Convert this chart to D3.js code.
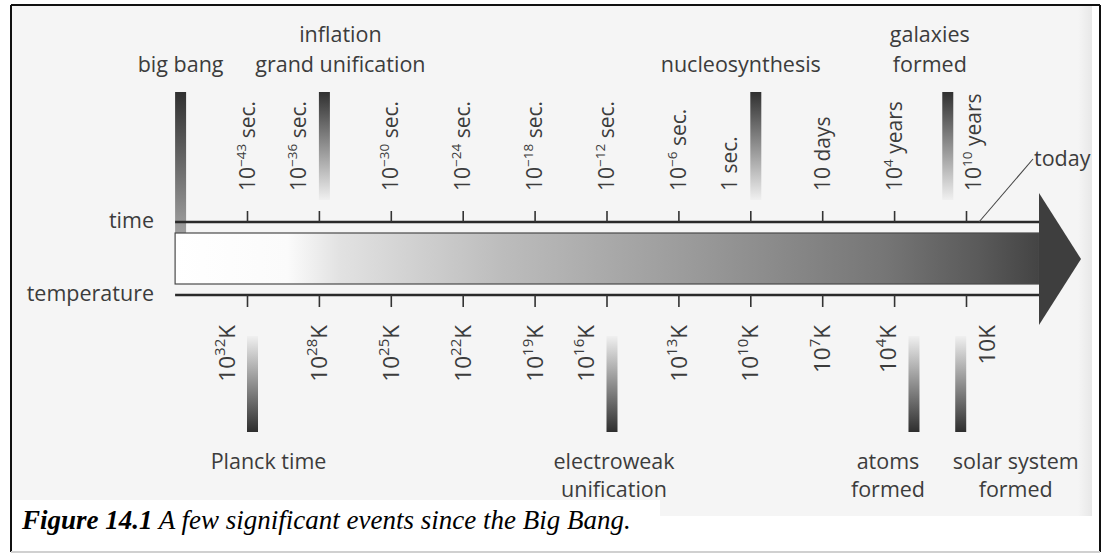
<!DOCTYPE html>
<html>
<head>
<meta charset="utf-8">
<script src="https://cdnjs.cloudflare.com/ajax/libs/d3/7.8.5/d3.min.js"></script>
<style>
  body { margin: 0; background: #fff; }
  svg text { font-family: "Open Sans", "Noto Sans", sans-serif; fill: #3c3c3c; }
  svg text.caption { font-family: "Liberation Serif", "Times New Roman", serif; fill: #000; }
</style>
</head>
<body>
<div id="chart"></div>
<script>
"use strict";

// time axis, one entry per tick: base, exponent, unit
var timeBase = ["10", "10", "10", "10", "10", "10", "10", "1", "10", "10", "10"];
var timeExp  = ["\u221243", "\u221236", "\u221230", "\u221224", "\u221218", "\u221212", "\u22126", "", "", "4", "10"];
var timeUnit = ["sec.", "sec.", "sec.", "sec.", "sec.", "sec.", "sec.", "sec.", "days", "years", "years"];

// temperature axis (kelvin), same ticks
var tempBase = ["10", "10", "10", "10", "10", "10", "10", "10", "10", "10", "10"];
var tempExp  = ["32", "28", "25", "22", "19", "16", "13", "10", "7", "4", ""];

// events, placed on the tick-index scale (left edge of each bar)
var topEvents     = [["big bang"], ["inflation", "grand unification"], ["nucleosynthesis"], ["galaxies", "formed"]];
var topEventAt    = [-1, 1, 7, 9.67];
var bottomEvents  = [["Planck time"], ["electroweak", "unification"], ["atoms", "formed"], ["solar system", "formed"]];
var bottomEventAt = [0, 5, 9.2, 9.85];

var captionBold = "Figure 14.1";
var captionText = " A few significant events since the Big Bang.";

var width = 1111,
    height = 555,
    timeY = 222,
    tempY = 295,
    bodyTop = 233,
    bodyBottom = 284,
    headX = 1039,
    tipX = 1081,
    barW = 11,
    topNudge = [0, 16, -15, -18],
    bottomNudge = [16, 2, -26, 55],

    x = d3.scaleLinear()
      .domain([0, 10])
      .range([247, 966]),

    ticks = d3.range(timeBase.length),

    svg = d3.select("#chart").append("svg")
      .attr("width", width)
      .attr("height", height);

var defs = svg.append("defs");

var arrowFill = defs.append("linearGradient")
    .attr("id", "arrowFill")
    .attr("gradientUnits", "userSpaceOnUse")
    .attr("x1", x(-1)).attr("x2", headX)
    .attr("y1", 0).attr("y2", 0);
[[0, "#ffffff"], [0.13, "#fbfbfb"], [0.19, "#e2e2e2"], [0.38, "#bcbcbc"], [0.6, "#9a9a9a"], [0.82, "#767676"], [0.93, "#5a5a5a"], [1, "#444444"]]
  .forEach(function(s) {
    arrowFill.append("stop").attr("offset", s[0]).attr("stop-color", s[1]);
  });

function vGrad(id, from, to) {
  var g = defs.append("linearGradient")
      .attr("id", id)
      .attr("x1", 0).attr("x2", 0)
      .attr("y1", 0).attr("y2", 1);
  g.append("stop").attr("offset", 0).attr("stop-color", from);
  g.append("stop").attr("offset", 1).attr("stop-color", to);
}
vGrad("darkTop", "#303030", "#f0f0f0");
vGrad("bangFill", "#303030", "#a0a0a0");
vGrad("darkBottom", "#f0f0f0", "#2e2e2e");

var edge = defs.append("linearGradient").attr("id", "edgeFill");
edge.append("stop").attr("offset", 0).attr("stop-color", "#f5f5f5");
edge.append("stop").attr("offset", 1).attr("stop-color", "#e8e8e8");

// scanned page background and frame
svg.append("rect").attr("x", 12).attr("y", 6).attr("width", 1080).attr("height", 494).attr("fill", "#f5f5f5");
svg.append("rect").attr("x", 660).attr("y", 500).attr("width", 432).attr("height", 16).attr("fill", "#f5f5f5");
svg.append("rect").attr("x", 1078).attr("y", 6).attr("width", 14).attr("height", 510).attr("fill", "url(#edgeFill)");
svg.append("line").attr("x1", 11).attr("x2", 1100).attr("y1", 5).attr("y2", 5).attr("stroke", "#111").attr("stroke-width", 2);
svg.append("line").attr("x1", 11).attr("x2", 11).attr("y1", 5).attr("y2", 552).attr("stroke", "#111").attr("stroke-width", 2);
svg.append("line").attr("x1", 1100).attr("x2", 1100).attr("y1", 5).attr("y2", 552).attr("stroke", "#111").attr("stroke-width", 2);
svg.append("line").attr("x1", 11).attr("x2", 1100).attr("y1", 552).attr("y2", 552).attr("stroke", "#d0d0d0").attr("stroke-width", 2);

var barCenter = function(at) { return x(at) + barW / 2; };

// big bang bar sits under the time line
svg.append("rect")
  .attr("x", x(topEventAt[0])).attr("y", 92)
  .attr("width", barW).attr("height", bodyTop + 1 - 92)
  .attr("fill", "url(#bangFill)");

// arrow body + head
svg.append("rect")
  .attr("x", x(-1)).attr("y", bodyTop)
  .attr("width", headX - x(-1)).attr("height", bodyBottom - bodyTop)
  .attr("fill", "url(#arrowFill)")
  .attr("stroke", "#4a4a4a")
  .attr("stroke-width", 1.2);

[timeY, tempY].forEach(function(y) {
  svg.append("line")
    .attr("x1", x(-1)).attr("x2", headX)
    .attr("y1", y).attr("y2", y)
    .attr("stroke", "#2a2a2a")
    .attr("stroke-width", 2.6);
});

svg.append("path")
  .attr("d", "M" + headX + "," + 193 + "L" + tipX + "," + 259 + "L" + headX + "," + 325 + "Z")
  .attr("fill", "#3e3e3e");

// ticks
var timeAxis = svg.append("g")
    .attr("transform", "translate(0," + timeY + ")")
    .call(d3.axisTop(x).tickValues(ticks).tickSize(11).tickSizeOuter(0).tickFormat(""));
var tempAxis = svg.append("g")
    .attr("transform", "translate(0," + tempY + ")")
    .call(d3.axisBottom(x).tickValues(ticks).tickSize(12).tickSizeOuter(0).tickFormat(""));
[timeAxis, tempAxis].forEach(function(a) {
  a.select(".domain").remove();
  a.selectAll(".tick line").attr("stroke", "#333").attr("stroke-width", 1.6);
});

// move a rotated label off a bar that sits on its tick
function dodge(tx, ats) {
  var out = tx;
  ats.forEach(function(at) {
    var c = barCenter(at);
    if (Math.abs(c - tx) < 30) out = c + (c > tx ? -26 : 26);
  });
  return out;
}

function rotLabel(px, py, anchor, size, supSize, base, exp, unit) {
  var t = svg.append("text")
      .attr("transform", "translate(" + px + "," + py + ") rotate(-90)")
      .attr("text-anchor", anchor)
      .attr("dy", "0.36em")
      .style("font-size", size + "px");
  t.append("tspan").text(base);
  if (exp) t.append("tspan").attr("baseline-shift", "super").style("font-size", supSize + "px").text(exp);
  t.append("tspan").text(unit);
}

ticks.forEach(function(i) {
  rotLabel(dodge(x(i), topEventAt), 191, "start", 21, 13.5, timeBase[i], timeExp[i], " " + timeUnit[i]);
  rotLabel(dodge(x(i), bottomEventAt), 325, "end", 22.5, 15, tempBase[i], tempExp[i], "K");
});

// event bars
topEventAt.slice(1).forEach(function(at) {
  svg.append("rect")
    .attr("x", x(at)).attr("y", 92)
    .attr("width", barW).attr("height", 108)
    .attr("fill", "url(#darkTop)");
});
bottomEventAt.forEach(function(at) {
  svg.append("rect")
    .attr("x", x(at)).attr("y", 336)
    .attr("width", barW).attr("height", 96)
    .attr("fill", "url(#darkBottom)");
});

// event names
topEvents.forEach(function(lines, i) {
  var n = lines.length;
  lines.forEach(function(s, j) {
    svg.append("text")
      .attr("x", barCenter(topEventAt[i]) + topNudge[i])
      .attr("y", 72 - (n - 1 - j) * 30)
      .attr("text-anchor", "middle")
      .style("font-size", "21.5px")
      .text(s);
  });
});
bottomEvents.forEach(function(lines, i) {
  lines.forEach(function(s, j) {
    svg.append("text")
      .attr("x", barCenter(bottomEventAt[i]) + bottomNudge[i])
      .attr("y", 469 + j * 28)
      .attr("text-anchor", "middle")
      .style("font-size", "21.5px")
      .text(s);
  });
});

// axis names
svg.append("text").attr("x", 154).attr("y", 228).attr("text-anchor", "end").style("font-size", "21.5px").text("time");
svg.append("text").attr("x", 154).attr("y", 301).attr("text-anchor", "end").style("font-size", "21.5px").text("temperature");

// today marker
svg.append("line")
  .attr("x1", x(10) + 13).attr("y1", timeY)
  .attr("x2", 1033).attr("y2", 159)
  .attr("stroke", "#444").attr("stroke-width", 1.1);
svg.append("text").attr("x", 1034).attr("y", 166).style("font-size", "21.5px").text("today");

// caption
var cap = svg.append("text")
    .attr("class", "caption")
    .attr("x", 22).attr("y", 529)
    .style("font-size", "27px")
    .style("font-style", "italic");
cap.append("tspan").style("font-weight", "bold").text(captionBold);
cap.append("tspan").text(captionText);
</script>
</body>
</html>
